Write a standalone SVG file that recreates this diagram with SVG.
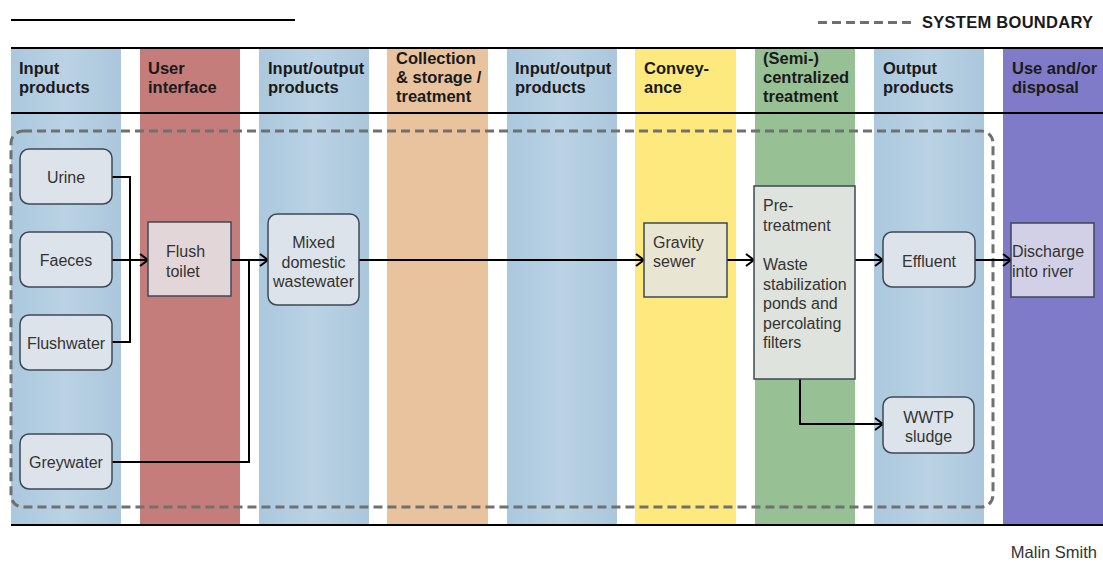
<svg xmlns="http://www.w3.org/2000/svg" width="1103" height="563" viewBox="0 0 1103 563">
<defs>
<linearGradient id="blueg" x1="0" y1="0" x2="1" y2="0">
<stop offset="0" stop-color="#abc8de"/><stop offset="0.5" stop-color="#bad2e4"/><stop offset="1" stop-color="#abc7dc"/>
</linearGradient>
<marker id="arr" markerWidth="12" markerHeight="14" refX="9" refY="7" orient="auto" markerUnits="userSpaceOnUse">
<path d="M1,1 L9,7 L1,13" fill="none" stroke="#000" stroke-width="2"/>
</marker>
<style>
.hd{font-family:"Liberation Sans",Arial,sans-serif;font-weight:bold;font-size:16.5px;fill:#1a1a1a}
.nt{font-family:"Liberation Sans",Arial,sans-serif;font-size:16px;fill:#333}
.box{fill:#dde3ea;stroke:#3e4856;stroke-width:1.5}
.ln{fill:none;stroke:#000;stroke-width:2}
.rule{stroke:#000;stroke-width:2}
.bnd{fill:none;stroke:#707070;stroke-width:3;stroke-dasharray:9 5}
</style>
</defs>
<rect width="1103" height="563" fill="#fff"/>
<line class="rule" x1="11" y1="20" x2="295" y2="20"/>
<line x1="818" y1="22.5" x2="915" y2="22.5" stroke="#707070" stroke-width="3" stroke-dasharray="9 5"/>
<text class="hd" x="922" y="28" textLength="171">SYSTEM BOUNDARY</text>
<g id="columns">
<rect x="11" y="48" width="110" height="477" fill="url(#blueg)"/>
<rect x="140" y="48" width="100" height="477" fill="#c47d7b"/>
<rect x="259" y="48" width="110" height="477" fill="url(#blueg)"/>
<rect x="387" y="48" width="101" height="477" fill="#e8c39e"/>
<rect x="507" y="48" width="110" height="477" fill="url(#blueg)"/>
<rect x="635" y="48" width="101" height="477" fill="#fde97d"/>
<rect x="755" y="48" width="100" height="477" fill="#97c194"/>
<rect x="874" y="48" width="110" height="477" fill="url(#blueg)"/>
<rect x="1003" y="48" width="100" height="477" fill="#7f7bc8"/>
</g>
<line class="rule" x1="11" y1="48" x2="1103" y2="48"/>
<line class="rule" x1="11" y1="113" x2="1103" y2="113"/>
<line class="rule" x1="11" y1="525" x2="1103" y2="525"/>
<g id="headers">
<text class="hd" x="19" y="74">Input</text><text class="hd" x="19" y="93">products</text>
<text class="hd" x="148" y="74">User</text><text class="hd" x="148" y="93">interface</text>
<text class="hd" x="268" y="74">Input/output</text><text class="hd" x="268" y="93">products</text>
<text class="hd" x="396" y="64">Collection</text><text class="hd" x="396" y="83">&amp; storage /</text><text class="hd" x="396" y="102">treatment</text>
<text class="hd" x="515" y="74">Input/output</text><text class="hd" x="515" y="93">products</text>
<text class="hd" x="644" y="74">Convey-</text><text class="hd" x="644" y="93">ance</text>
<text class="hd" x="763" y="64">(Semi-)</text><text class="hd" x="763" y="83">centralized</text><text class="hd" x="763" y="102">treatment</text>
<text class="hd" x="883" y="74">Output</text><text class="hd" x="883" y="93">products</text>
<text class="hd" x="1012" y="74">Use and/or</text><text class="hd" x="1012" y="93">disposal</text>
</g>
<rect id="system-boundary" class="bnd" x="11" y="131" width="982" height="376" rx="12"/>
<g id="connectors">
<path class="ln" d="M112,177 H130 V342 H112"/>
<path class="ln" d="M112,260 H148" marker-end="url(#arr)"/>
<path class="ln" d="M231,260 H268" marker-end="url(#arr)"/>
<path class="ln" d="M112,462 H249 V260"/>
<path class="ln" d="M359,260 H644" marker-end="url(#arr)"/>
<path class="ln" d="M727,260 H754" marker-end="url(#arr)"/>
<path class="ln" d="M855,260 H883" marker-end="url(#arr)"/>
<path class="ln" d="M975,260 H1011" marker-end="url(#arr)"/>
<path class="ln" d="M800,379 V424 H883" marker-end="url(#arr)"/>
</g>
<g id="urine"><rect class="box" x="20" y="149" width="92" height="55" rx="9"/><text class="nt" x="66" y="183" text-anchor="middle">Urine</text></g>
<g id="faeces"><rect class="box" x="20" y="232" width="92" height="55" rx="9"/><text class="nt" x="66" y="266" text-anchor="middle">Faeces</text></g>
<g id="flushwater"><rect class="box" x="20" y="315" width="92" height="55" rx="9"/><text class="nt" x="66" y="349" text-anchor="middle">Flushwater</text></g>
<g id="greywater"><rect class="box" x="20" y="434" width="92" height="55" rx="9"/><text class="nt" x="66" y="468" text-anchor="middle">Greywater</text></g>
<g id="flush-toilet"><rect x="148" y="222" width="83" height="74" fill="#e2d6d8" stroke="#3e4856" stroke-width="1.5"/><text class="nt" x="166" y="257">Flush</text><text class="nt" x="166" y="277">toilet</text></g>
<g id="mixed-wastewater"><rect class="box" x="268" y="214" width="91" height="91" rx="9"/><text class="nt" x="313.5" y="248" text-anchor="middle">Mixed</text><text class="nt" x="313.5" y="268" text-anchor="middle">domestic</text><text class="nt" x="313.5" y="287" text-anchor="middle">wastewater</text></g>
<g id="gravity-sewer"><rect x="644" y="223" width="83" height="74" fill="#e9e5d3" stroke="#3e4856" stroke-width="1.5"/><text class="nt" x="653" y="248">Gravity</text><text class="nt" x="653" y="267">sewer</text></g>
<g id="treatment"><rect x="754" y="186" width="101" height="193" fill="#dfe3dd" stroke="#3e4856" stroke-width="1.5"/>
<text class="nt" x="763" y="211">Pre-</text><text class="nt" x="763" y="231">treatment</text><text class="nt" x="763" y="270">Waste</text><text class="nt" x="763" y="290">stabilization</text><text class="nt" x="763" y="309">ponds and</text><text class="nt" x="763" y="329">percolating</text><text class="nt" x="763" y="348">filters</text></g>
<g id="effluent"><rect class="box" x="883" y="232" width="92" height="55" rx="9"/><text class="nt" x="929" y="267" text-anchor="middle">Effluent</text></g>
<g id="wwtp-sludge"><rect class="box" x="883" y="397" width="91" height="56" rx="9"/><text class="nt" x="928.5" y="423" text-anchor="middle">WWTP</text><text class="nt" x="928.5" y="442" text-anchor="middle">sludge</text></g>
<g id="discharge"><rect x="1011" y="223" width="83" height="74" fill="#d2d0e6" stroke="#3e4856" stroke-width="1.5"/><text class="nt" x="1012" y="257">Discharge</text><text class="nt" x="1012" y="277">into river</text></g>
<text class="nt" x="1097" y="558" text-anchor="end" style="font-size:16.5px">Malin Smith</text>
</svg>
